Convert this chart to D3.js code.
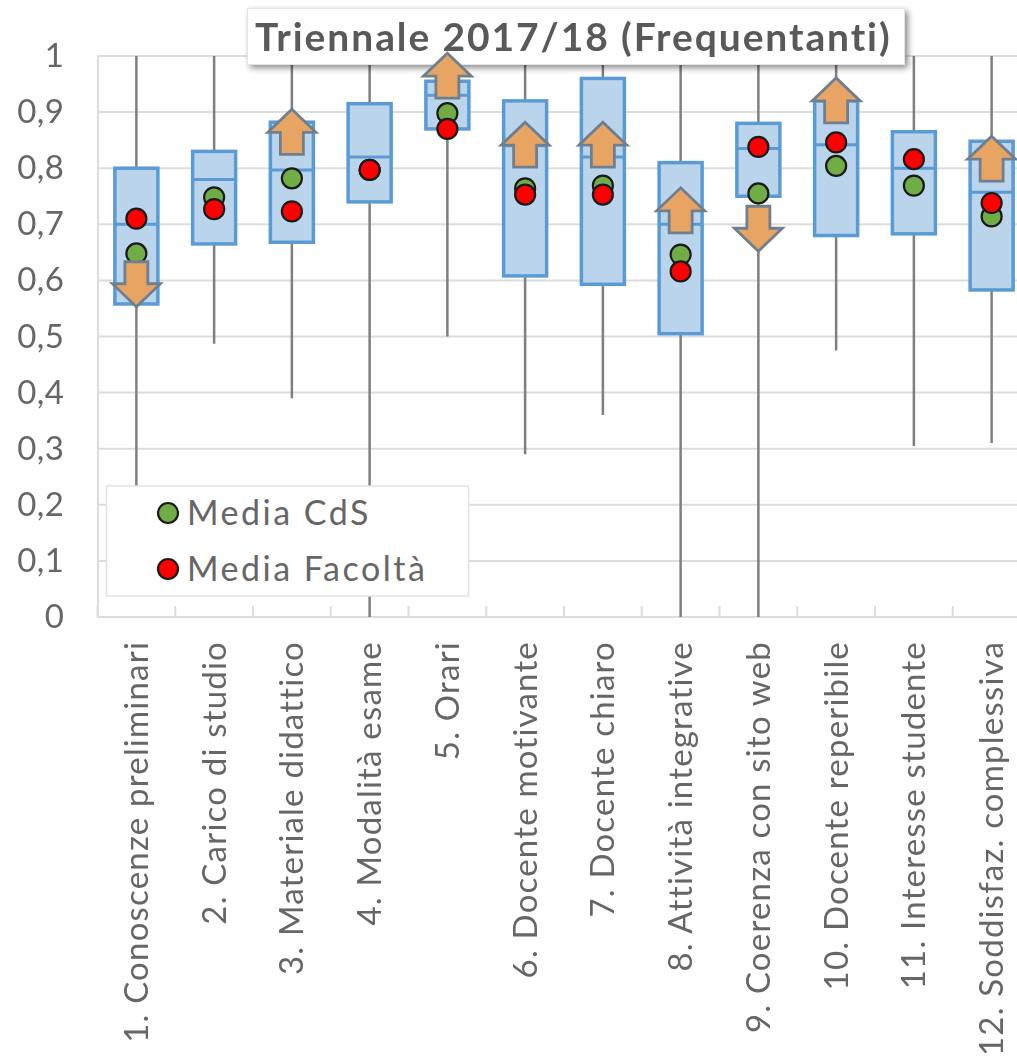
<!DOCTYPE html>
<html>
<head>
<meta charset="utf-8">
<script src="https://cdn.jsdelivr.net/npm/d3@7"></script>
<style>
  html, body { margin: 0; padding: 0; background: #fff; overflow: hidden; }
  svg { display: block; filter: blur(0.7px); }
  text { font-family: "Lato", sans-serif; fill: #666; }
</style>
</head>
<body>
<div id="chart"></div>
<script>
const categories = ["1. Conoscenze preliminari", "2. Carico di studio", "3. Materiale didattico", "4. Modalità esame", "5. Orari", "6. Docente motivante", "7. Docente chiaro", "8. Attività integrative", "9. Coerenza con sito web", "10. Docente reperibile", "11. Interesse studente", "12. Soddisfaz. complessiva"];
const whiskerHigh = [1, 1, 1, 1, 1, 1, 1, 1, 1, 1, 1, 1];
const whiskerLow = [0.2, 0.487, 0.39, 0, 0.5, 0.29, 0.36, 0, 0, 0.475, 0.305, 0.31];
const q3 = [0.8, 0.83, 0.882, 0.915, 0.955, 0.92, 0.96, 0.81, 0.88, 0.92, 0.865, 0.848];
const median = [0.7, 0.78, 0.797, 0.82, 0.93, 0.84, 0.82, 0.7, 0.835, 0.842, 0.8, 0.757];
const q1 = [0.558, 0.665, 0.668, 0.74, 0.87, 0.608, 0.593, 0.505, 0.75, 0.68, 0.683, 0.583];
const mediaCds = [0.648, 0.748, 0.782, 0.797, 0.898, 0.764, 0.769, 0.646, 0.755, 0.804, 0.769, 0.714];
const mediaFacolta = [0.71, 0.727, 0.723, 0.797, 0.87, 0.753, 0.753, 0.616, 0.838, 0.846, 0.816, 0.738];
const arrowDir = [-1, 0, 1, 0, 1, 1, 1, 1, -1, 1, 0, 1]; // 1 = up, -1 = down, 0 = none
const arrowTip = [0.553, null, 0.905, null, 1.005, 0.882, 0.882, 0.765, 0.652, 0.961, null, 0.857];
const yTicks = [0, 0.1, 0.2, 0.3, 0.4, 0.5, 0.6, 0.7, 0.8, 0.9, 1];
const title = "Triennale 2017/18 (Frequentanti)";
const legendLabels = ["Media CdS", "Media Facoltà"];

var w = 1017;
var h = 1058;
var left = 97.5;
var right = 1030.5;
var top_ = 56;
var bottom = 617;
var grey = "#7f7f7f";
var gridColor = "#dcdcdc";

var xScale = d3.scaleBand().domain(categories).range([left, right]);
var yScale = d3.scaleLinear().domain([0, 1]).range([bottom, top_]);
var cx = (i) => xScale(categories[i]) + xScale.bandwidth() / 2;

var svg = d3.select("#chart").append("svg").attr("width", w).attr("height", h);

//Gridlines
svg.append("g").selectAll("line").data(yTicks).enter().append("line")
  .attr("x1", left).attr("x2", right)
  .attr("y1", (d) => yScale(d)).attr("y2", (d) => yScale(d))
  .attr("stroke", gridColor).attr("stroke-width", 2);

//Y axis
var yAxis = d3.axisLeft(yScale).tickValues(yTicks).tickSize(0).tickPadding(33)
  .tickFormat((d) => String(d).replace(".", ","));
var yG = svg.append("g").attr("transform", "translate(" + left + ",0)").call(yAxis);
yG.select(".domain").attr("stroke", gridColor).attr("stroke-width", 2);
yG.selectAll("text").style("font-size", "33px").style("letter-spacing", "0.5px").style("font-family", "Lato").style("fill", "#666").attr("dy", "0.32em");

//X axis
var xBoundaries = d3.range(categories.length + 1).map((i) => left + i * xScale.bandwidth());
svg.append("g").selectAll("line").data(xBoundaries).enter().append("line")
  .attr("x1", (d) => d).attr("x2", (d) => d)
  .attr("y1", bottom - 11).attr("y2", bottom)
  .attr("stroke", gridColor).attr("stroke-width", 2);

var xAxis = d3.axisBottom(xScale).tickSize(0).tickPadding(0);
var xG = svg.append("g").attr("transform", "translate(0," + bottom + ")").call(xAxis);
xG.select(".domain").remove();
xG.selectAll("text")
  .attr("transform", "translate(0,24) rotate(-90)")
  .attr("text-anchor", "end")
  .attr("x", 0).attr("y", 0).attr("dy", "0.35em")
  .style("font-size", "33px").style("letter-spacing", "1.2px").style("font-family", "Lato").style("fill", "#666");

var idx = d3.range(categories.length);

//Whiskers
svg.append("g").selectAll("line").data(idx).enter().append("line")
  .attr("x1", cx).attr("x2", cx)
  .attr("y1", (i) => yScale(whiskerHigh[i])).attr("y2", (i) => yScale(whiskerLow[i]))
  .attr("stroke", grey).attr("stroke-width", 2.5);

//Boxes
var boxW = 43;
svg.append("g").selectAll("rect").data(idx).enter().append("rect")
  .attr("x", (i) => cx(i) - boxW / 2).attr("width", boxW)
  .attr("y", (i) => yScale(q3[i]))
  .attr("height", (i) => yScale(q1[i]) - yScale(q3[i]))
  .attr("fill", "#bad4ec").attr("stroke", "#5b9bd5").attr("stroke-width", 3.5);

svg.append("g").selectAll("line").data(idx).enter().append("line")
  .attr("x1", (i) => cx(i) - boxW / 2).attr("x2", (i) => cx(i) + boxW / 2)
  .attr("y1", (i) => yScale(median[i])).attr("y2", (i) => yScale(median[i]))
  .attr("stroke", "#5b9bd5").attr("stroke-width", 3);

//Means
function dots(values, color) {
  svg.append("g").selectAll("circle").data(idx).enter().append("circle")
    .attr("cx", cx).attr("cy", (i) => yScale(values[i])).attr("r", 10)
    .attr("fill", color).attr("stroke", "#1a1a1a").attr("stroke-width", 2.2);
}
dots(mediaCds, "#70ad47");
dots(mediaFacolta, "#ff0000");

//Legend
var legend = svg.append("g");
legend.append("rect").attr("x", 106.5).attr("y", 486).attr("width", 362).attr("height", 110)
  .attr("fill", "#fff").attr("stroke", "#e2e2e2").attr("stroke-width", 1.5);
var legendColors = ["#70ad47", "#ff0000"];
var legendScale = d3.scalePoint().domain(legendLabels).range([513, 569]);
legend.selectAll("circle").data(legendLabels).enter().append("circle")
  .attr("cx", 168).attr("cy", (d) => legendScale(d)).attr("r", 10)
  .attr("fill", (d, i) => legendColors[i]).attr("stroke", "#1a1a1a").attr("stroke-width", 2.2);
legend.selectAll("text").data(legendLabels).enter().append("text")
  .attr("x", 187).attr("y", (d) => legendScale(d)).attr("dy", "0.35em")
  .style("font-size", "34px").style("letter-spacing", "2.5px").text((d) => d);

//Title
var defs = svg.append("defs");
var f = defs.append("filter").attr("id", "shadow").attr("x", "-5%").attr("y", "-20%").attr("width", "110%").attr("height", "150%");
f.append("feDropShadow").attr("dx", 3).attr("dy", 3).attr("stdDeviation", 3).attr("flood-color", "#000").attr("flood-opacity", 0.45);
svg.append("rect").attr("x", 247.5).attr("y", 8.5).attr("width", 657).attr("height", 56)
  .attr("fill", "#fff").attr("stroke", "#e4e4e4").attr("stroke-width", 1).attr("filter", "url(#shadow)");
svg.append("text").attr("x", 255).attr("y", 37).attr("dy", "0.35em")
  .style("font-size", "39px").style("font-weight", "bold").style("letter-spacing", "1.9px").style("fill", "#595959").text(title);

//Arrows go over the title box
function arrowPath(i) {
  var x = cx(i);
  var t = yScale(arrowTip[i]);
  var s = arrowDir[i]; // up arrows grow downward from the tip
  return d3.line()([
    [x, t], [x + 24, t + s * 23], [x + 11.5, t + s * 23], [x + 11.5, t + s * 45],
    [x - 11.5, t + s * 45], [x - 11.5, t + s * 23], [x - 24, t + s * 23]
  ]) + "Z";
}
svg.append("g").selectAll("path").data(idx.filter((i) => arrowDir[i] !== 0)).enter().append("path")
  .attr("d", arrowPath)
  .attr("fill", "#e8a462").attr("stroke", "#6f7f8f").attr("stroke-width", 2.8)
  .attr("stroke-linejoin", "miter");
</script>
</body>
</html>
